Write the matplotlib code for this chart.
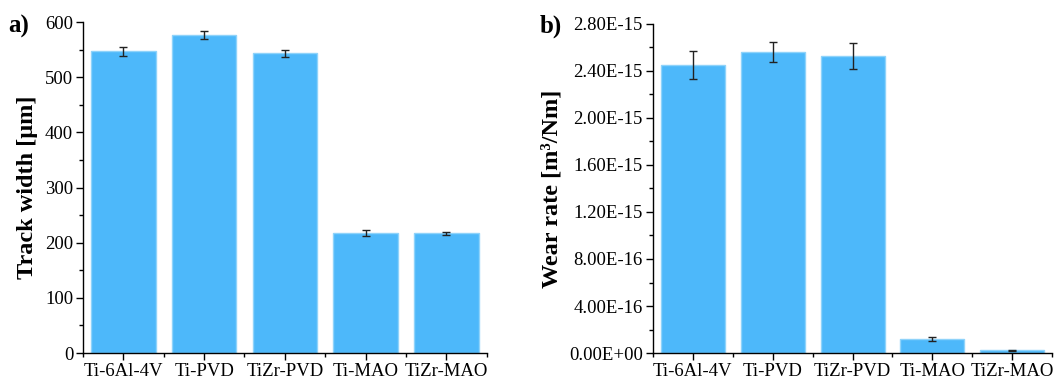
import numpy as np
import matplotlib
matplotlib.use("Agg")
import matplotlib.pyplot as plt
from matplotlib.ticker import MultipleLocator, FixedLocator, FuncFormatter

plt.rcParams['font.family'] = ['Liberation Serif', 'DejaVu Serif']

# 数据
samples = ['Ti-6Al-4V', 'Ti-PVD', 'TiZr-PVD', 'Ti-MAO', 'TiZr-MAO']
track_width = [547, 577, 543, 218, 217]
track_err = [8.5, 7, 6, 5, 2.5]
wear_rate = [2.45e-15, 2.56e-15, 2.53e-15, 1.19e-16, 2.3e-17]
wear_err = [1.17e-16, 0.85e-16, 1.1e-16, 0.17e-16, 0.03e-16]
track_ticks = [0, 100, 200, 300, 400, 500, 600]
wear_ticks = [0, 4e-16, 8e-16, 1.2e-15, 1.6e-15, 2.0e-15, 2.4e-15, 2.8e-15]

bar_color = '#4db8fa'
edge_color = '#8fd3fa'

fig = plt.figure(figsize=(10.63, 3.8), dpi=100)
ax1 = fig.add_axes([0.078, 0.071, 0.380, 0.871])
ax2 = fig.add_axes([0.614, 0.071, 0.376, 0.866])

x = np.arange(len(samples))


def style(ax):
    ax.spines['top'].set_visible(False)
    ax.spines['right'].set_visible(False)
    ax.set_xlim(-0.5, len(samples) - 0.5)
    ax.set_xticks(x)
    ax.set_xticklabels(samples)
    ax.xaxis.set_minor_locator(FixedLocator(np.arange(-0.5, len(samples), 1.0)))
    ax.tick_params(axis='both', which='major', direction='out', length=5,
                   width=1, labelsize=13.5, pad=2)
    ax.tick_params(axis='both', which='minor', direction='out', length=3, width=1)
    for s in ['left', 'bottom']:
        ax.spines[s].set_linewidth(1)


# a) 磨痕宽度
ax1.bar(x, track_width, width=0.8, color=bar_color, edgecolor=edge_color,
        linewidth=1, yerr=track_err, capsize=3,
        error_kw=dict(ecolor='#222222', elinewidth=1, capthick=1))
style(ax1)
ax1.set_ylim(0, 600)
ax1.yaxis.set_major_locator(FixedLocator(track_ticks))
ax1.yaxis.set_minor_locator(FixedLocator(np.arange(50, 600, 100)))
ax1.set_ylabel('Track width [μm]', fontsize=17.5, fontweight='bold', labelpad=5)
fig.text(0.008, 0.915, 'a)', fontsize=18, fontweight='bold')

# b) 磨损率
ax2.bar(x, wear_rate, width=0.8, color=bar_color, edgecolor=edge_color,
        linewidth=1, yerr=wear_err, capsize=3,
        error_kw=dict(ecolor='#222222', elinewidth=1, capthick=1))
style(ax2)
ax2.set_ylim(0, 2.8e-15)
ax2.yaxis.set_major_locator(FixedLocator(wear_ticks))
ax2.yaxis.set_minor_locator(FixedLocator(np.arange(2e-16, 2.8e-15, 4e-16)))


def sci_fmt(v, pos):
    if abs(v) < 1e-30:
        return '0.00E+00'
    e = int(np.floor(np.log10(abs(v)) + 1e-9))
    m = v / 10 ** e
    return '%.2fE-%d' % (m, -e)


ax2.yaxis.set_major_formatter(FuncFormatter(sci_fmt))
ax2.set_ylabel('Wear rate [m³/Nm]', fontsize=17.5, fontweight='bold', labelpad=5)
fig.text(0.508, 0.915, 'b)', fontsize=18, fontweight='bold')

fig.savefig('out.png', dpi=100)
